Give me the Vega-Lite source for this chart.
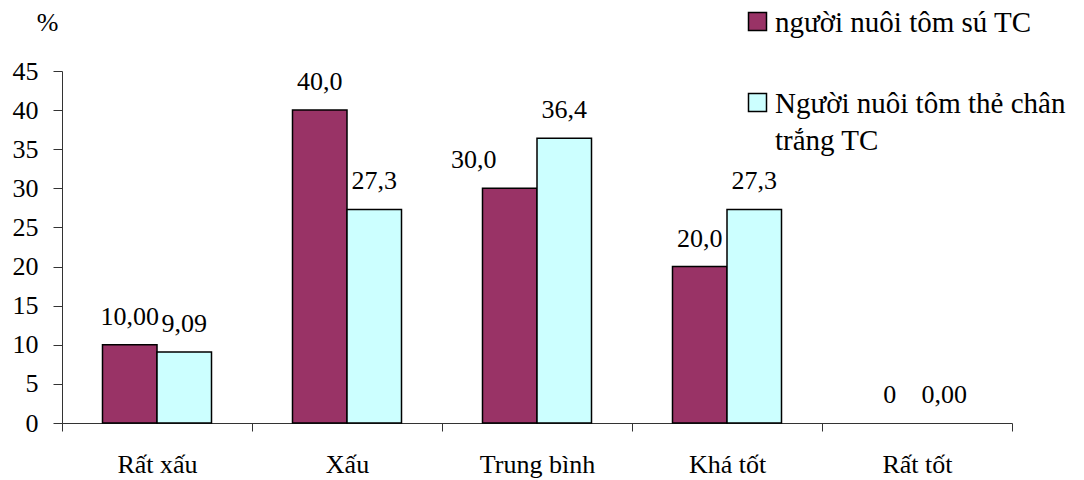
{
  "$schema": "https://vega.github.io/schema/vega-lite/v6.json",
  "width": 950,
  "height": 352,
  "autosize": "none",
  "padding": {"left": 62, "top": 71, "right": 72, "bottom": 57},
  "background": "white",
  "config": {
    "view": {"stroke": null},
    "axis": {"grid": false, "labelFont": "Liberation Serif", "titleFont": "Liberation Serif", "labelColor": "black", "domainColor": "#333", "tickColor": "#333", "labelFontSize": 26}
  },
  "data": {
    "values": [
      {"category": "Rất xấu", "series": "người nuôi tôm sú TC", "value": 10.0, "label": "10,00"},
      {"category": "Rất xấu", "series": "Người nuôi tôm thẻ chân trắng TC", "value": 9.09, "label": "9,09"},
      {"category": "Xấu", "series": "người nuôi tôm sú TC", "value": 40.0, "label": "40,0"},
      {"category": "Xấu", "series": "Người nuôi tôm thẻ chân trắng TC", "value": 27.3, "label": "27,3"},
      {"category": "Trung bình", "series": "người nuôi tôm sú TC", "value": 30.0, "label": "30,0"},
      {"category": "Trung bình", "series": "Người nuôi tôm thẻ chân trắng TC", "value": 36.4, "label": "36,4"},
      {"category": "Khá tốt", "series": "người nuôi tôm sú TC", "value": 20.0, "label": "20,0"},
      {"category": "Khá tốt", "series": "Người nuôi tôm thẻ chân trắng TC", "value": 27.3, "label": "27,3"},
      {"category": "Rất tốt", "series": "người nuôi tôm sú TC", "value": 0, "label": "0"},
      {"category": "Rất tốt", "series": "Người nuôi tôm thẻ chân trắng TC", "value": 0, "label": "0,00"}
    ]
  },
  "encoding": {
    "x": {
      "field": "category", "type": "nominal",
      "sort": ["Rất xấu", "Xấu", "Trung bình", "Khá tốt", "Rất tốt"],
      "scale": {"paddingInner": 0, "paddingOuter": 0},
      "axis": {"title": null, "labelAngle": 0, "tickBand": "extent", "tickSize": 8, "labelPadding": 20, "labelBaseline": "top", "domainWidth": 1}
    },
    "xOffset": {
      "field": "series", "type": "nominal",
      "sort": ["người nuôi tôm sú TC", "Người nuôi tôm thẻ chân trắng TC"],
      "scale": {"paddingInner": 0, "paddingOuter": 0.743}
    },
    "y": {
      "field": "value", "type": "quantitative",
      "scale": {"domain": [0, 45], "nice": false},
      "axis": {
        "values": [0, 5, 10, 15, 20, 25, 30, 35, 40, 45],
        "tickSize": 9, "labelPadding": 15,
        "title": "%", "titleAngle": 0, "titleFontSize": 26, "titleFontWeight": "normal",
        "titleX": -15, "titleY": -49, "titleAlign": "center", "titleBaseline": "middle"
      }
    }
  },
  "layer": [
    {
      "transform": [{"filter": "datum.value > 0"}],
      "mark": {"type": "bar", "stroke": "black", "strokeWidth": 1.5},
      "encoding": {
        "color": {
          "field": "series", "type": "nominal",
          "scale": {"domain": ["người nuôi tôm sú TC", "Người nuôi tôm thẻ chân trắng TC"], "range": ["#993366", "#CCFFFF"]},
          "legend": {
            "title": null, "orient": "none", "legendX": 681, "legendY": -64,
            "symbolType": "square", "symbolSize": 324, "symbolStrokeColor": "black", "symbolStrokeWidth": 1.5,
            "labelFont": "Liberation Serif", "labelFontSize": 29, "labelColor": "black", "labelOffset": 3,
            "labelLimit": 400, "rowPadding": 50, "padding": 0,
            "labelExpr": "datum.label == 'Người nuôi tôm thẻ chân trắng TC' ? ['Người nuôi tôm thẻ chân', 'trắng TC'] : datum.label",
            "labelBaseline": "alphabetic",
            "encode": {"labels": {"update": {"dy": {"value": 10}, "lineHeight": {"value": 37}}}}
          }
        }
      }
    },
    {
      "transform": [{"filter": "datum.label != '30,0'"}],
      "mark": {"type": "text", "font": "Liberation Serif", "fontSize": 26, "baseline": "middle", "dy": -28, "color": "black"},
      "encoding": {"text": {"field": "label"}}
    },
    {
      "transform": [{"filter": "datum.label == '30,0'"}],
      "mark": {"type": "text", "font": "Liberation Serif", "fontSize": 26, "baseline": "middle", "dy": -28, "dx": -36, "color": "black"},
      "encoding": {"text": {"field": "label"}}
    }
  ]
}
